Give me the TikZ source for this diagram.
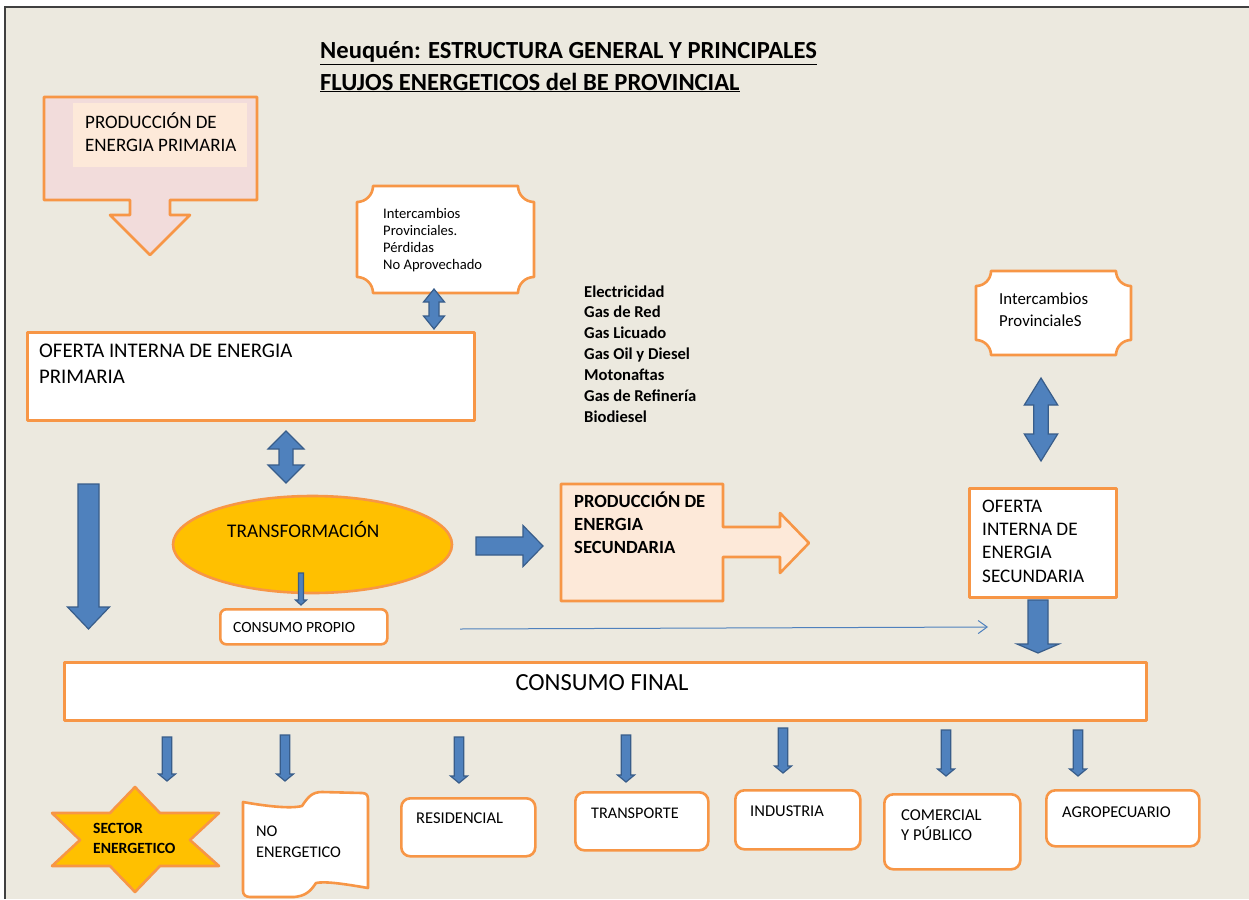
\documentclass[tikz,border=0pt]{standalone}
\usepackage{fontspec}
\setmainfont{Carlito}
\usetikzlibrary{arrows.meta,shapes.geometric}

\definecolor{bgpaper}{RGB}{236,233,223}
\definecolor{frameline}{RGB}{64,64,64}
\definecolor{orangeline}{RGB}{247,150,70}
\definecolor{pinkfill}{RGB}{242,220,219}
\definecolor{peachfill}{RGB}{253,233,217}
\definecolor{goldfill}{RGB}{255,192,0}
\definecolor{bluefill}{RGB}{79,129,189}
\definecolor{blueline}{RGB}{56,93,138}

\tikzset{
  boxline/.style={draw=orangeline, line width=2.6pt, line join=round, fill=white},
  blockarrow/.style={fill=bluefill, draw=blueline, line width=1.2pt, line join=miter},
  thinarrow/.style={draw=bluefill, line width=1pt, -{Straight Barb[length=9pt,width=13pt,line width=1pt]}},
  % multi-line labels are placed by the baseline of their last line
  txt/.style={anchor=base west, align=left, inner sep=0pt, text=black},
  fs/.style 2 args={font=\fontsize{#1}{#2}\selectfont},
  fsb/.style 2 args={font=\fontsize{#1}{#2}\selectfont\bfseries}
}

% vertical block arrow: x, y of top, y of tip, shaft half width, head half width, head length
\newcommand\blkdown[6]{%
  \filldraw[blockarrow] ({#1-#4},#2) -- ({#1+#4},#2) -- ({#1+#4},{#3-#6}) -- ({#1+#5},{#3-#6})
    -- (#1,#3) -- ({#1-#5},{#3-#6}) -- ({#1-#4},{#3-#6}) -- cycle;}
% vertical two-headed block arrow: x, y of upper tip, y of lower tip, shaft half, head half, head length
\newcommand\blkupdown[6]{%
  \filldraw[blockarrow] (#1,#2) -- ({#1+#5},{#2+#6}) -- ({#1+#4},{#2+#6}) -- ({#1+#4},{#3-#6})
    -- ({#1+#5},{#3-#6}) -- (#1,#3) -- ({#1-#5},{#3-#6}) -- ({#1-#4},{#3-#6})
    -- ({#1-#4},{#2+#6}) -- ({#1-#5},{#2+#6}) -- cycle;}
% horizontal block arrow: y, x of tail, x of tip, shaft half, head half, head length
\newcommand\blkright[6]{%
  \filldraw[blockarrow] (#2,{#1-#4}) -- ({#3-#6},{#1-#4}) -- ({#3-#6},{#1-#5}) -- (#3,#1)
    -- ({#3-#6},{#1+#5}) -- ({#3-#6},{#1+#4}) -- (#2,{#1+#4}) -- cycle;}
% plaque with concave corners: x1, y1, x2, y2, corner radius
\newcommand\plaquebox[5]{%
  \filldraw[boxline] ({#1+#5},#2) -- ({#3-#5},#2)
    .. controls ({#3-#5},{#2+0.55*#5}) and ({#3-0.55*#5},{#2+#5}) .. (#3,{#2+#5})
    -- (#3,{#4-#5})
    .. controls ({#3-0.55*#5},{#4-#5}) and ({#3-#5},{#4-0.55*#5}) .. ({#3-#5},#4)
    -- ({#1+#5},#4)
    .. controls ({#1+#5},{#4-0.55*#5}) and ({#1+0.55*#5},{#4-#5}) .. (#1,{#4-#5})
    -- (#1,{#2+#5})
    .. controls ({#1+0.55*#5},{#2+#5}) and ({#1+#5},{#2+0.55*#5}) .. ({#1+#5},#2) -- cycle;}

\begin{document}
\begin{tikzpicture}[x=1pt,y=-1pt]
\useasboundingbox (0,0) rectangle (1249,899);
\fill[white] (0,0) rectangle (1249,899);
\fill[bgpaper] (5,7) rectangle (1249,899);
\draw[frameline, line width=1.8pt] (5,899) -- (5,7) -- (1249,7);

% title
\node[txt, fsb={24.6}{31}] (title1) at (320,59) {\underline{Neuquén: ESTRUCTURA GENERAL Y PRINCIPALES}};
\node[txt, fsb={24.6}{31}] (title2) at (320,90) {\underline{FLUJOS ENERGETICOS del BE PROVINCIAL}};

% primary production (down arrow callout)
\filldraw[boxline, fill=pinkfill] (44,97) -- (257,97) -- (257,200) -- (170,200) -- (170,215) -- (190,215)
  -- (150,255) -- (110,215) -- (130,215) -- (130,200) -- (44,200) -- cycle;
\fill[peachfill] (73,103) rectangle (247,167);
\node[txt, fs={19}{23}] (prodprim) at (85,151) {PRODUCCIÓN DE\\ENERGIA PRIMARIA};

% exchanges and losses
\plaquebox{357}{186}{534}{293}{16}
\node[txt, fs={14.6}{16.7}] (inter1) at (383,269) {Intercambios\\Provinciales.\\Pérdidas\\No Aprovechado};
\blkupdown{434}{289}{329}{5}{10.5}{13}

% primary internal supply
\node[boxline, minimum width=447pt, minimum height=88pt, anchor=north west, inner sep=0pt] (ofprim) at (26,331) {};
\node[txt, fs={20.8}{26}] (ofprimtxt) at (39,383) {OFERTA INTERNA DE ENERGIA\\PRIMARIA};

% secondary products list
\node[txt, fsb={16.6}{20.9}] (products) at (584,422.4) {Electricidad\\Gas de Red\\Gas Licuado\\Gas Oil y Diesel\\Motonaftas\\Gas de Refinería\\Biodiesel};

% primary supply to transformation
\blkupdown{286}{431}{483}{7}{18}{18}
\blkdown{88.5}{484}{629}{10.5}{21}{22}

% transformation
\node[boxline, fill=goldfill, ellipse, minimum width=279pt, minimum height=97pt, inner sep=0pt] (transf) at (312.5,544.5) {};
\node[txt, fs={19.3}{23}] (transftxt) at (227,537) {TRANSFORMACIÓN};
\blkdown{301}{573}{605}{2.5}{5.5}{5}

% own consumption
\node[boxline, rounded corners=6pt, minimum width=167pt, minimum height=35pt, anchor=north west, inner sep=0pt] (propio) at (219,608) {};
\node[txt, fs={15.6}{16}] (propiotxt) at (233,632) {CONSUMO PROPIO};

% transformation to secondary production
\blkright{546}{476}{543}{9}{20.5}{20}

% secondary production (right arrow callout)
\filldraw[boxline, fill=peachfill] (561,484) -- (723,484) -- (723,527) -- (780,527) -- (780,513) -- (809,543)
  -- (780,573) -- (780,557) -- (723,557) -- (723,601) -- (561,601) -- cycle;
\node[txt, fsb={18.6}{23}] (prodsec) at (574,553) {PRODUCCIÓN DE\\ENERGIA\\SECUNDARIA};

% thin flow line towards secondary supply
\coordinate (flowstart) at (460,629);
\coordinate (flowend) at (988,627);
\draw[thinarrow] (flowstart) -- (flowend);

% secondary exchanges
\plaquebox{976}{271}{1131}{355}{15}
\node[txt, fs={16.8}{22}] (inter2) at (999,326) {Intercambios\\ProvincialeS};
\blkupdown{1041}{378}{461}{7.2}{16.7}{27}

% secondary internal supply
\node[boxline, minimum width=147pt, minimum height=109pt, anchor=north west, inner sep=0pt] (ofsec) at (968,487) {};
\node[txt, fs={19.2}{23.3}] (ofsectxt) at (982,582) {OFERTA\\INTERNA DE\\ENERGIA\\SECUNDARIA};
\blkdown{1038}{600}{653}{10}{21}{9}

% final consumption
\node[boxline, minimum width=1082pt, minimum height=58pt, anchor=north west, inner sep=0pt] (final) at (63,661) {};
\node[fs={24.6}{26}, inner sep=0pt, anchor=base] (finaltxt) at (602,690) {CONSUMO FINAL};

% arrows to consuming sectors
\blkdown{167}{737}{781}{4.7}{8.5}{7}
\blkdown{285}{735}{781}{4.7}{8.5}{7}
\blkdown{459}{737}{783}{4.7}{8.5}{7}
\blkdown{626}{735}{782}{4.7}{8.5}{7}
\blkdown{783}{728}{773}{4.7}{8.5}{7}
\blkdown{946}{730}{776}{4.7}{8.5}{7}
\blkdown{1078}{730}{776}{4.7}{8.5}{7}

% energy sector star
\filldraw[boxline, fill=goldfill] (135,787) -- (160,813) -- (219,813) -- (190,840) -- (219,866)
  -- (160,866) -- (135,892) -- (110,866) -- (52,866) -- (80,840) -- (52,813) -- (110,813) -- cycle;
\node[txt, fsb={15.6}{20}] (sector) at (93,853) {SECTOR\\ENERGETICO};

% non-energy use (wavy sheet)
\filldraw[boxline] (243,802) .. controls (265,806) and (290,809) .. (302,806)
  .. controls (308,797) and (312,792) .. (322,792) -- (362,793)
  .. controls (366,793) and (368,795) .. (368,799) -- (368,888)
  .. controls (345,884) and (325,881) .. (316,883)
  .. controls (310,892) and (305,896) .. (294,897) -- (250,897)
  .. controls (246,897) and (243,895) .. (243,891) -- cycle;
\node[txt, fs={16.3}{21}] (noenerg) at (256,857) {NO\\ENERGETICO};

% consuming sectors
\node[boxline, rounded corners=9pt, minimum width=134pt, minimum height=58pt, anchor=north west, inner sep=0pt] (resid) at (400,797) {};
\node[txt, fs={16.5}{18}] (residtxt) at (416,823) {RESIDENCIAL};
\node[boxline, rounded corners=9pt, minimum width=133pt, minimum height=58pt, anchor=north west, inner sep=0pt] (transp) at (574,791) {};
\node[txt, fs={16.2}{18}] (transptxt) at (591,818) {TRANSPORTE};
\node[boxline, rounded corners=9pt, minimum width=125pt, minimum height=59pt, anchor=north west, inner sep=0pt] (indus) at (734,789) {};
\node[txt, fs={16.5}{18}] (industxt) at (750,816) {INDUSTRIA};
\node[boxline, rounded corners=9pt, minimum width=136pt, minimum height=75pt, anchor=north west, inner sep=0pt] (comer) at (883,793) {};
\node[txt, fs={16.6}{20}] (comertxt) at (901,840) {COMERCIAL\\Y PÚBLICO};
\node[boxline, rounded corners=9pt, minimum width=153pt, minimum height=56pt, anchor=north west, inner sep=0pt] (agro) at (1045,789) {};
\node[txt, fs={16.5}{18}] (agrotxt) at (1062,817) {AGROPECUARIO};
\end{tikzpicture}
\end{document}
